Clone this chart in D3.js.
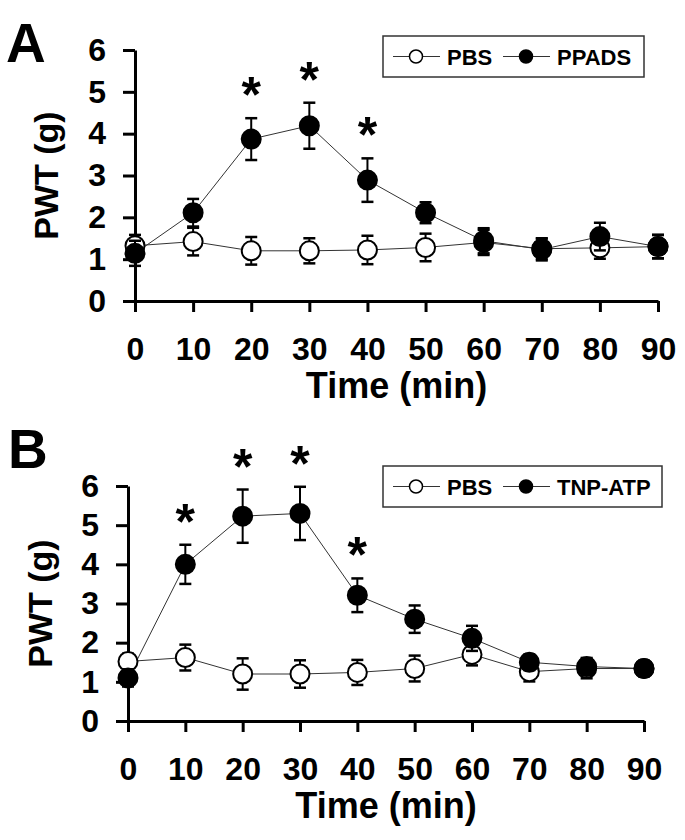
<!DOCTYPE html>
<html>
<head>
<meta charset="utf-8">
<script src="https://cdn.jsdelivr.net/npm/d3@7"></script>
<style>
  body { margin: 0; background: #fff; }
  text { font-family: "Liberation Sans", Arial, sans-serif; font-weight: bold; fill: #000; }
</style>
</head>
<body>
<div id="chart"></div>
<script>
// time points (min) and y ticks
var times = [0, 10, 20, 30, 40, 50, 60, 70, 80, 90];
var yTicks = [0, 1, 2, 3, 4, 5, 6];

// panel A: PBS vs PPADS
var pbsA = [1.32, 1.42, 1.2, 1.2, 1.22, 1.28, 1.4, 1.25, 1.27, 1.3];
var pbsAErr = [0.26, 0.33, 0.33, 0.3, 0.34, 0.33, 0.3, 0.25, 0.26, 0.28];
var ppadsA = [1.14, 2.11, 3.87, 4.19, 2.89, 2.11, 1.44, 1.23, 1.54, 1.3];
var ppadsAErr = [0.3, 0.33, 0.5, 0.55, 0.52, 0.25, 0.3, 0.26, 0.33, 0.28];
var starsA = [20, 30, 40];

// panel B: PBS vs TNP-ATP
var pbsB = [1.52, 1.62, 1.2, 1.2, 1.24, 1.34, 1.7, 1.26, 1.34, 1.34];
var pbsBErr = [0.2, 0.33, 0.4, 0.35, 0.32, 0.33, 0.28, 0.25, 0.25, 0.2];
var tnpB = [1.1, 4.0, 5.23, 5.3, 3.21, 2.6, 2.11, 1.5, 1.39, 1.34];
var tnpBErr = [0.22, 0.5, 0.68, 0.68, 0.43, 0.35, 0.32, 0.2, 0.22, 0.15];
var starsB = [10, 20, 30, 40];

var svg = d3.select("#chart")
    .append("svg")
    .attr("width", 685)
    .attr("height", 840);

function drawPanel(p) {
    var x = d3.scaleLinear().domain([0, 90]).range([p.x0, p.x1]);
    var y = d3.scaleLinear().domain([0, 6]).range([p.yBottom, p.yTop]);
    var g = svg.append("g");

    // panel letter
    g.append("text")
        .attr("x", p.letterX)
        .attr("y", p.letterY)
        .style("font-size", "55px")
        .text(p.letter);

    // y axis
    var yAxis = d3.axisLeft(y).tickValues(yTicks).tickFormat(d3.format("d"))
        .tickSize(12).tickPadding(17).tickSizeOuter(0);
    var gy = g.append("g")
        .attr("transform", "translate(" + p.x0 + ",0)")
        .call(yAxis);
    gy.selectAll("text").style("font-size", "32px").style("font-family", "'Liberation Sans', Arial, sans-serif");

    // x axis
    var xAxis = d3.axisBottom(x).tickValues(times).tickSize(11).tickPadding(25).tickSizeOuter(0);
    var gx = g.append("g")
        .attr("transform", "translate(0," + p.yBottom + ")")
        .call(xAxis);
    gx.selectAll("text").style("font-size", "32px").style("font-family", "'Liberation Sans', Arial, sans-serif");

    [gx, gy].forEach(function (a) {
        a.select(".domain").attr("stroke", "#000").attr("stroke-width", 3);
        a.selectAll(".tick line").attr("stroke", "#000").attr("stroke-width", 3);
    });

    // axis titles
    g.append("text")
        .attr("transform", "translate(" + p.ylabX + "," + ((p.yTop + p.yBottom) / 2) + ") rotate(-90)")
        .attr("text-anchor", "middle")
        .style("font-size", "34px")
        .text("PWT (g)");

    g.append("text")
        .attr("x", (p.x0 + p.x1) / 2)
        .attr("y", p.xlabY)
        .attr("text-anchor", "middle")
        .style("font-size", "36px")
        .text("Time (min)");

    var line = d3.line()
        .x(function (d, i) { return x(times[i]); })
        .y(function (d) { return y(d); });

    var series = [
        { vals: p.ctrl, err: p.ctrlErr, fill: "#fff" },
        { vals: p.drug, err: p.drugErr, fill: "#000" }
    ];

    series.forEach(function (s) {
        g.append("path")
            .attr("d", line(s.vals))
            .attr("fill", "none")
            .attr("stroke", "#333")
            .attr("stroke-width", 1);
    });

    series.forEach(function (s) {
        var eb = g.append("g");
        s.vals.forEach(function (v, i) {
            var cx = x(times[i]);
            var top = y(v + s.err[i]), bot = y(v - s.err[i]);
            eb.append("line").attr("x1", cx).attr("x2", cx).attr("y1", top).attr("y2", bot)
                .attr("stroke", "#000").attr("stroke-width", 2);
            [top, bot].forEach(function (yy) {
                eb.append("line").attr("x1", cx - 6).attr("x2", cx + 6).attr("y1", yy).attr("y2", yy)
                    .attr("stroke", "#000").attr("stroke-width", 2.5);
            });
        });
        g.selectAll(null)
            .data(s.vals)
            .enter()
            .append("circle")
            .attr("cx", function (d, i) { return x(times[i]); })
            .attr("cy", function (d) { return y(d); })
            .attr("r", 9.5)
            .attr("fill", s.fill)
            .attr("stroke", "#000")
            .attr("stroke-width", 2);
    });

    // significance asterisks above the error bars
    g.selectAll(null)
        .data(p.stars)
        .enter()
        .append("text")
        .attr("x", function (t) { return x(t); })
        .attr("y", function (t) {
            var i = times.indexOf(t);
            return y(p.drug[i] + p.drugErr[i]) - 6;
        })
        .attr("text-anchor", "middle")
        .style("font-size", "50px")
        .text("*");

    // legend
    var lg = g.append("g").attr("transform", "translate(" + p.legX + "," + p.legY + ")");
    lg.append("rect")
        .attr("width", p.legW)
        .attr("height", 41)
        .attr("fill", "#fff")
        .attr("stroke", "#333")
        .attr("stroke-width", 1.5);
    var items = [
        { name: "PBS", fill: "#fff", lx: 10, tx: 64 },
        { name: p.drugName, fill: "#000", lx: 120, tx: 174 }
    ];
    items.forEach(function (it) {
        lg.append("line")
            .attr("x1", it.lx).attr("x2", it.lx + 47)
            .attr("y1", 20.5).attr("y2", 20.5)
            .attr("stroke", "#333").attr("stroke-width", 1.2);
        lg.append("circle")
            .attr("cx", it.lx + 23).attr("cy", 20.5).attr("r", 6.5)
            .attr("fill", it.fill).attr("stroke", "#000").attr("stroke-width", 1.5);
        lg.append("text")
            .attr("x", it.tx).attr("y", 29)
            .style("font-size", "22px")
            .text(it.name);
    });
}

drawPanel({
    letter: "A", letterX: 6, letterY: 62,
    x0: 135, x1: 658, yTop: 50, yBottom: 301,
    ylabX: 58, xlabY: 398,
    ctrl: pbsA, ctrlErr: pbsAErr, drug: ppadsA, drugErr: ppadsAErr,
    stars: starsA, drugName: "PPADS",
    legX: 383, legY: 36, legW: 261
});

drawPanel({
    letter: "B", letterX: 8, letterY: 468,
    x0: 128, x1: 644, yTop: 486, yBottom: 721,
    ylabX: 52, xlabY: 818,
    ctrl: pbsB, ctrlErr: pbsBErr, drug: tnpB, drugErr: tnpBErr,
    stars: starsB, drugName: "TNP-ATP",
    legX: 383, legY: 466, legW: 279
});
</script>
</body>
</html>
